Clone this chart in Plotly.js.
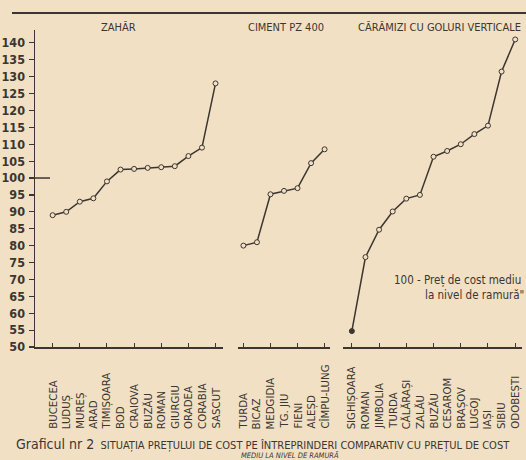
<!DOCTYPE html>
<html><head><meta charset="utf-8">
<script src="https://cdn.plot.ly/plotly-3.0.1.min.js"></script>
<style>body{margin:0;background:#f2e0c4;}#c{width:526px;height:460px;}</style>
</head><body><div id="c"></div>
<script>
const zaharCats = ["BUCECEA","LUDUȘ","MUREȘ","ARAD","TIMIȘOARA","BOD","CRAIOVA","BUZĂU","ROMAN","GIURGIU","ORADEA","CORABIA","SASCUT"];
const zaharVals = [89, 90, 93, 94, 99, 102.5, 102.7, 103, 103.2, 103.5, 106.5, 109, 128];
const cimentCats = ["TURDA","BICAZ","MEDGIDIA","TG. JIU","FIENI","ALEȘD","CÎMPU-LUNG"];
const cimentVals = [80, 81, 95.2, 96.2, 97, 104.4, 108.5];
const caramCats = ["SIGHIȘOARA","ROMAN","JIMBOLIA","TURDA","CĂLĂRAȘI","ZALĂU","BUZĂU","CESAROM","BRAȘOV","LUGOJ","IAȘI","SIBIU","ODOBEȘTI"];
const caramVals = [54.7, 76.6, 84.7, 90.1, 93.9, 95, 106.3, 108, 110, 113, 115.5, 131.5, 141];
const panelTitles = ["ZAHĂR","CIMENT PZ 400","CĂRĂMIZI CU GOLURI VERTICALE"];
const yTicks = [50,55,60,65,70,75,80,85,90,95,100,105,110,115,120,125,130,135,140];

const W = 526, H = 460, plotTop = 30, plotBottom = 347;
const ink = "#3b3631", bg = "#f2e0c4";
const NARROW = "DejaVu Sans Condensed, Liberation Sans Narrow, Arial Narrow, sans-serif";
const py = p => (plotBottom - p) / (plotBottom - plotTop);
const px = p => p / W;

function lineTrace(cats, vals, xa, firstFilled) {
  return {
    x: cats, y: vals, xaxis: xa, yaxis: "y", type: "scatter", mode: "lines+markers",
    line: {color: ink, width: 1.5},
    marker: {symbol: "circle", size: 5, color: vals.map((v,i)=> (firstFilled && i===0) ? ink : bg),
             line: {color: ink, width: 1}},
    hoverinfo: "skip", showlegend: false
  };
}
const data = [
  lineTrace(zaharCats, zaharVals, "x", false),
  lineTrace(cimentCats, cimentVals, "x2", false),
  lineTrace(caramCats, caramVals, "x3", true)
];

function xax(domain, range) {
  return {domain: domain, range: range, type: "category", anchor: "y",
    showline: true, linecolor: ink, linewidth: 1.5, showgrid: false, zeroline: false,
    ticks: "inside", ticklen: 4, tickcolor: ink, tickwidth: 1, showticklabels: false, fixedrange: true};
}
const annotations = [];
function catLabels(cats, xref) {
  cats.forEach(c => annotations.push({x: c, xref: xref, y: py(431), yref: "paper", text: c,
    textangle: -90, showarrow: false, xanchor: "center", yanchor: "bottom",
    font: {family: NARROW, size: 11.3, color: ink}}));
}
catLabels(zaharCats, "x"); catLabels(cimentCats, "x2"); catLabels(caramCats, "x3");
const titleX = [118, 286, 439];
panelTitles.forEach((t,i) => annotations.push({x: px(titleX[i]), xref: "paper", y: py(27), yref: "paper",
  text: t, showarrow: false, xanchor: "center", yanchor: "middle",
  font: {family: NARROW, size: 11, color: ink}}));
annotations.push({x: px(392), xref: "paper", y: py(280), yref: "paper", xanchor: "left", yanchor: "middle",
  text: "100 - Preț de cost mediu", showarrow: false, font: {family: NARROW, size: 11.5, color: ink}});
annotations.push({x: px(423), xref: "paper", y: py(295), yref: "paper", xanchor: "left", yanchor: "middle",
  text: "la nivel de ramură\"", showarrow: false, font: {family: NARROW, size: 11.5, color: ink}});
annotations.push({x: px(14), xref: "paper", y: py(444), yref: "paper", xanchor: "left", yanchor: "middle",
  text: "<span style=\"font-size:14px\">Graficul nr 2</span>  SITUAȚIA PREȚULUI DE COST PE ÎNTREPRINDERI COMPARATIV CU PREȚUL DE COST",
  showarrow: false, font: {family: NARROW, size: 11, color: ink}});
annotations.push({x: px(290), xref: "paper", y: py(455.5), yref: "paper", xanchor: "center", yanchor: "middle",
  text: "<i>MEDIU LA NIVEL DE RAMURĂ</i>", showarrow: false, font: {family: NARROW, size: 7.5, color: ink}});

const layout = {
  width: W, height: H, margin: {l: 0, r: 0, t: plotTop, b: H - plotBottom, pad: 0},
  paper_bgcolor: bg, plot_bgcolor: bg, showlegend: false,
  xaxis: xax([px(35), px(223)], [-1.3, 12.55]),
  xaxis2: xax([px(238), px(330)], [-0.4, 6.4]),
  xaxis3: xax([px(343), px(522)], [-0.65, 12.5]),
  yaxis: {range: [50, 143.8], anchor: "x", tickmode: "array", tickvals: yTicks, ticktext: yTicks.map(String),
    showline: true, linecolor: ink, linewidth: 1.5, showgrid: false, zeroline: false,
    ticks: "outside", ticklen: 5, tickcolor: ink, tickwidth: 1.2, ticklabelstandoff: 1,
    tickfont: {family: NARROW, size: 12.5, color: ink, weight: "bold"}, fixedrange: true},
  shapes: [
    {type: "line", xref: "paper", yref: "paper", x0: px(12), x1: px(526), y0: py(13), y1: py(13),
     line: {color: ink, width: 2}},
    {type: "line", xref: "paper", yref: "y", x0: px(35), x1: px(50), y0: 100, y1: 100,
     line: {color: ink, width: 1.5}}
  ],
  annotations: annotations
};
Plotly.newPlot("c", data, layout, {staticPlot: true, displayModeBar: false});
</script></body></html>
